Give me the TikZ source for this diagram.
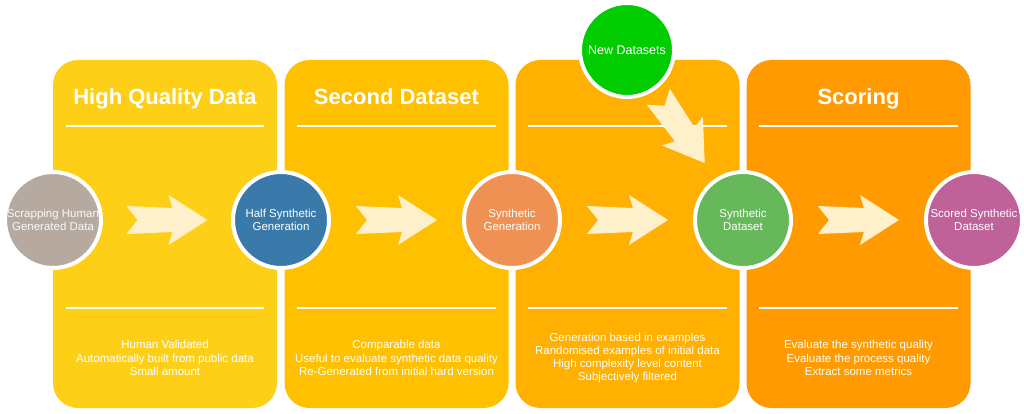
\documentclass[tikz,border=0pt]{standalone}
\usepackage{fontspec}
\setmainfont{Liberation Sans}
\usetikzlibrary{calc,positioning}
\definecolor{panelA}{RGB}{253,208,23}
\definecolor{panelB}{RGB}{255,192,0}
\definecolor{panelC}{RGB}{255,176,0}
\definecolor{panelD}{RGB}{255,154,0}
\definecolor{stoneGray}{RGB}{182,170,160}
\definecolor{steelBlue}{RGB}{58,122,171}
\definecolor{peach}{RGB}{238,145,82}
\definecolor{leafGreen}{RGB}{102,184,90}
\definecolor{plum}{RGB}{190,98,153}
\definecolor{brightGreen}{RGB}{0,204,0}
\definecolor{cream}{RGB}{255,240,204}
\tikzset{panel/.style={rectangle,rounded corners=25pt,minimum width=224pt,minimum height=348pt,inner sep=0pt,draw=none},
         main node/.style={circle,draw=white,line width=4pt,minimum size=96pt,inner sep=0pt,text=white,align=center,font=\fontsize{11.5}{13.5}\selectfont},
         title/.style={text=white,anchor=base,inner sep=0pt,font=\fontsize{22}{26}\selectfont\bfseries},
         desc/.style={text=white,align=center,inner sep=0pt,font=\fontsize{11.5}{13.2}\selectfont},
         rule line/.style={white,line width=1.5pt},
         fat arrow/.pic={\fill[cream] (-40.5,-14) -- (5.5,-12) -- (1.5,-25) -- (40.5,0) -- (1.5,25) -- (5.5,12) -- (-40.5,14) -- (-29.5,0) -- cycle;},
}

\begin{document}
\begin{tikzpicture}[x=1pt,y=-1pt]
\useasboundingbox (0,0) rectangle (1024,414);
% panels
\node[panel,fill=panelA] (p1) at (165,234) {};
\node[panel,fill=panelB] (p2) at (396.5,234) {};
\node[panel,fill=panelC] (p3) at (627.5,234) {};
\node[panel,fill=panelD] (p4) at (858.5,234) {};

\foreach \p in {p1,p2,p3,p4} {
    \draw[rule line] ($(\p.north west)+(13,66)$) -- ($(\p.north east)+(-13,66)$);
    \draw[rule line] ($(\p.south west)+(13,-100)$) -- ($(\p.south east)+(-13,-100)$);
}

\node[title] (t1) at (165,105) {High Quality Data};
\node[title] (t2) at (396.5,105) {Second Dataset};
\node[title] (t4) at (858.5,105) {Scoring};

\node[desc] (d1) at ($(p1.center)+(0,124)$) {Human Validated\\Automatically built from public data\\Small amount};
\node[desc] (d2) at ($(p2.center)+(0,124)$) {Comparable data\\Useful to evaluate synthetic data quality\\Re-Generated from initial hard version};
\node[desc] (d3) at ($(p3.center)+(0,124)$) {Generation based in examples\\Randomised examples of initial data\\High complexity level content\\Subjectively filtered};
\node[desc] (d4) at ($(p4.center)+(0,124)$) {Evaluate the synthetic quality\\Evaluate the process quality\\Extract some metrics};

% stages
\node[main node,fill=stoneGray,text=white!92!stoneGray] (c1) at (53,220) {Scrapping Human\\Generated Data};
\node[main node,fill=steelBlue] (c2) at (281,220) {Half Synthetic\\Generation};
\node[main node,fill=peach] (c3) at (512,220) {Synthetic\\Generation};
\node[main node,fill=leafGreen] (c4) at (743,220) {Synthetic\\Dataset};
\node[main node,fill=plum] (c5) at (974,220) {Scored Synthetic\\Dataset};
\node[main node,fill=brightGreen,minimum size=94pt,font=\fontsize{12.5}{15}\selectfont] (n) at (627,50) {New Datasets};

\foreach \a/\b in {c1/c2,c2/c3,c3/c4,c4/c5}
    \pic at ($(\a)!.5!(\b)$) {fat arrow};
\pic[rotate=-55] at ($(n)!.47!(c4)$) {fat arrow};
\end{tikzpicture}
\end{document}
